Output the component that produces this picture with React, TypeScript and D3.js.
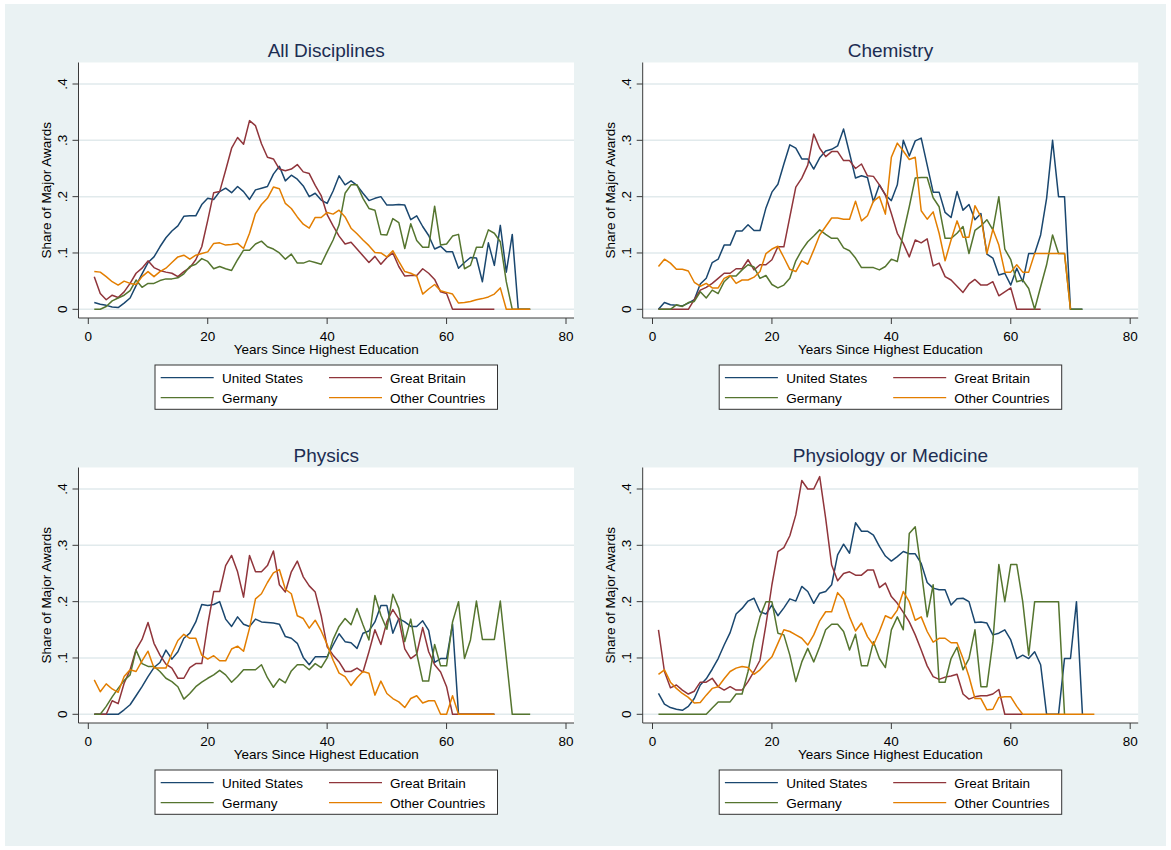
import React from "react";
import * as d3 from "d3";

// ---------- DATA (values start at year 1, one per year) ----------
const panelTitles = ["All Disciplines", "Chemistry", "Physics", "Physiology or Medicine"];
const seriesNames = ["United States", "Great Britain", "Germany", "Other Countries"];
const xTicks = [0, 20, 40, 60, 80];
const yTicks = [0, 0.1, 0.2, 0.3, 0.4];
const yTickLabels = ["0", ".1", ".2", ".3", ".4"];

const allUS = [0.012,0.009,0.007,0.004,0.003,0.011,0.02,0.042,0.063,0.083,0.093,0.111,0.127,0.139,0.148,0.165,0.166,0.166,0.186,0.197,0.195,0.209,0.215,0.207,0.218,0.209,0.195,0.212,0.215,0.218,0.24,0.254,0.228,0.238,0.231,0.219,0.2,0.206,0.194,0.188,0.21,0.237,0.221,0.228,0.22,0.206,0.193,0.197,0.2,0.185,0.185,0.186,0.185,0.159,0.166,0.147,0.131,0.107,0.112,0.102,0.102,0.073,0.083,0.092,0.091,0.049,0.118,0.078,0.149,0.066,0.133,0,0,0];
const allGB = [0.058,0.028,0.017,0.025,0.021,0.031,0.046,0.064,0.073,0.086,0.074,0.069,0.066,0.064,0.058,0.067,0.074,0.088,0.111,0.158,0.207,0.209,0.247,0.286,0.305,0.293,0.335,0.326,0.294,0.27,0.267,0.249,0.246,0.249,0.257,0.244,0.241,0.22,0.202,0.168,0.148,0.13,0.116,0.119,0.107,0.095,0.083,0.094,0.08,0.092,0.1,0.076,0.059,0.06,0.06,0.072,0.064,0.053,0.031,0.028,0,0,0,0,0,0,0,0];
const allDE = [0,0,0.005,0.015,0.02,0.025,0.033,0.052,0.039,0.046,0.046,0.051,0.054,0.054,0.056,0.063,0.076,0.08,0.09,0.085,0.072,0.076,0.072,0.069,0.088,0.105,0.105,0.116,0.121,0.111,0.107,0.1,0.089,0.098,0.082,0.082,0.086,0.083,0.08,0.102,0.123,0.15,0.206,0.221,0.221,0.197,0.179,0.176,0.133,0.132,0.161,0.154,0.108,0.152,0.122,0.11,0.11,0.183,0.114,0.116,0.13,0.133,0.072,0.078,0.11,0.11,0.141,0.135,0.12,0.049,0,0,0,0];
const allOther = [0.067,0.066,0.058,0.049,0.043,0.05,0.046,0.044,0.058,0.067,0.058,0.067,0.073,0.083,0.093,0.096,0.089,0.096,0.099,0.102,0.117,0.118,0.114,0.115,0.117,0.108,0.135,0.17,0.186,0.197,0.217,0.214,0.188,0.179,0.164,0.151,0.144,0.163,0.163,0.172,0.169,0.176,0.164,0.144,0.134,0.123,0.113,0.101,0.1,0.093,0.104,0.085,0.067,0.064,0.059,0.027,0.036,0.044,0.033,0.03,0.027,0.011,0.012,0.014,0.017,0.019,0.022,0.027,0.038,0,0,0,0,0];

const chemUS = [0,0.012,0.008,0.007,0.006,0.011,0.017,0.045,0.055,0.083,0.089,0.114,0.114,0.139,0.139,0.15,0.14,0.14,0.18,0.208,0.222,0.258,0.292,0.286,0.267,0.267,0.249,0.269,0.281,0.284,0.29,0.32,0.277,0.233,0.237,0.234,0.191,0.221,0.203,0.193,0.221,0.3,0.272,0.299,0.304,0.256,0.208,0.208,0.172,0.163,0.209,0.176,0.186,0.159,0.17,0.098,0.091,0.061,0.064,0.043,0.073,0.049,0.099,0.099,0.132,0.197,0.3,0.2,0.2,0,0,0];
const chemGB = [0,0,0,0,0,0,0.017,0.034,0.039,0.046,0.055,0.064,0.064,0.072,0.072,0.088,0.07,0.079,0.079,0.088,0.111,0.111,0.164,0.217,0.233,0.256,0.311,0.286,0.271,0.28,0.28,0.264,0.264,0.25,0.258,0.237,0.236,0.221,0.203,0.17,0.135,0.117,0.093,0.123,0.118,0.125,0.077,0.082,0.058,0.052,0.041,0.03,0.045,0.053,0.043,0.043,0.049,0.024,0.031,0.038,0,0,0,0,0];
const chemDE = [0,0,0,0.008,0.005,0.012,0.014,0.031,0.02,0.034,0.028,0.049,0.059,0.059,0.07,0.079,0.075,0.055,0.06,0.044,0.038,0.043,0.055,0.086,0.105,0.12,0.13,0.141,0.133,0.126,0.126,0.109,0.104,0.091,0.074,0.074,0.074,0.07,0.076,0.089,0.085,0.135,0.182,0.233,0.234,0.234,0.198,0.182,0.126,0.126,0.135,0.147,0.099,0.14,0.148,0.159,0.141,0.2,0.107,0.088,0.049,0.052,0.037,0,0.04,0.079,0.132,0.099,0.099,0,0,0];
const chemOther = [0.076,0.089,0.082,0.071,0.071,0.068,0.048,0.041,0.046,0.038,0.038,0.055,0.06,0.046,0.052,0.052,0.057,0.067,0.099,0.107,0.112,0.092,0.071,0.067,0.086,0.08,0.105,0.132,0.147,0.162,0.162,0.16,0.16,0.192,0.157,0.166,0.192,0.2,0.169,0.27,0.295,0.281,0.266,0.27,0.175,0.16,0.173,0.135,0.086,0.123,0.157,0.128,0.128,0.184,0.164,0.099,0.142,0.114,0.066,0.066,0.079,0.066,0.066,0.099,0.099,0.099,0.099,0.099,0.099,0];

const physUS = [0,0,0,0,0,0.008,0.017,0.033,0.049,0.067,0.083,0.092,0.114,0.098,0.111,0.135,0.144,0.164,0.195,0.193,0.195,0.2,0.169,0.156,0.173,0.16,0.156,0.169,0.164,0.163,0.162,0.16,0.138,0.135,0.126,0.101,0.088,0.102,0.102,0.102,0.123,0.143,0.129,0.127,0.117,0.144,0.148,0.164,0.193,0.193,0.144,0.17,0.164,0.156,0.156,0.166,0.149,0.092,0.099,0.099,0.16,0,0,0,0,0,0,0];
const physGB = [0,0,0,0.024,0.019,0.055,0.079,0.115,0.133,0.163,0.126,0.105,0.089,0.082,0.064,0.064,0.083,0.09,0.09,0.159,0.218,0.218,0.264,0.282,0.253,0.208,0.282,0.253,0.253,0.264,0.29,0.23,0.217,0.253,0.272,0.244,0.228,0.217,0.175,0.12,0.105,0.093,0.076,0.076,0.082,0.075,0.111,0.15,0.124,0.164,0.186,0.169,0.116,0.099,0.107,0.154,0.111,0.088,0.075,0.049,0,0,0,0,0,0,0,0];
const physDE = [0,0,0.014,0.031,0.046,0.06,0.07,0.114,0.09,0.085,0.085,0.076,0.064,0.058,0.049,0.027,0.037,0.049,0.057,0.064,0.07,0.078,0.07,0.057,0.067,0.079,0.079,0.079,0.088,0.065,0.048,0.063,0.056,0.077,0.088,0.088,0.079,0.09,0.083,0.1,0.133,0.156,0.17,0.159,0.188,0.159,0.132,0.211,0.176,0.151,0.213,0.188,0.129,0.169,0.108,0.059,0.059,0.124,0.086,0.086,0.164,0.2,0.099,0.132,0.201,0.133,0.133,0.133,0.201,0.1,0,0,0,0];
const physOther = [0.061,0.04,0.054,0.045,0.039,0.067,0.079,0.076,0.095,0.112,0.082,0.082,0.082,0.108,0.131,0.142,0.135,0.135,0.105,0.098,0.104,0.095,0.095,0.116,0.121,0.112,0.153,0.205,0.214,0.234,0.251,0.257,0.222,0.214,0.175,0.17,0.153,0.167,0.148,0.124,0.096,0.073,0.067,0.051,0.065,0.076,0.073,0.034,0.059,0.037,0.028,0.022,0.012,0.028,0.033,0.02,0.024,0.024,0,0,0.033,0,0,0,0,0,0,0];

const medUS = [0.037,0.018,0.012,0.009,0.007,0.014,0.028,0.052,0.063,0.08,0.099,0.123,0.145,0.178,0.188,0.201,0.206,0.182,0.178,0.194,0.175,0.189,0.205,0.201,0.227,0.218,0.197,0.215,0.218,0.23,0.283,0.302,0.286,0.34,0.325,0.325,0.318,0.298,0.281,0.272,0.28,0.289,0.285,0.285,0.268,0.234,0.224,0.221,0.221,0.194,0.205,0.206,0.2,0.163,0.164,0.162,0.141,0.144,0.15,0.132,0.099,0.105,0.099,0.111,0.088,0,0,0,0.099,0.099,0.2,0];
const medGB = [0.15,0.076,0.047,0.052,0.043,0.036,0.041,0.057,0.057,0.064,0.049,0.043,0.049,0.043,0.043,0.058,0.076,0.096,0.159,0.23,0.289,0.296,0.317,0.354,0.415,0.4,0.4,0.422,0.348,0.265,0.237,0.25,0.253,0.247,0.247,0.256,0.256,0.225,0.233,0.209,0.197,0.181,0.164,0.141,0.114,0.086,0.067,0.062,0.066,0.068,0.071,0.036,0.027,0.031,0.033,0.033,0.036,0.044,0,0,0,0];
const medDE = [0,0,0,0,0,0,0,0,0,0.011,0.022,0.022,0.022,0.036,0.036,0.076,0.132,0.173,0.2,0.2,0.144,0.141,0.105,0.058,0.093,0.117,0.093,0.12,0.15,0.16,0.16,0.147,0.114,0.142,0.086,0.086,0.129,0.099,0.083,0.15,0.173,0.15,0.321,0.333,0.256,0.173,0.23,0.057,0.057,0.099,0.119,0.079,0.099,0.15,0.049,0.049,0.129,0.266,0.2,0.266,0.266,0.2,0.105,0.2,0.2,0.2,0.2,0.2,0];
const medOther = [0.071,0.079,0.057,0.046,0.037,0.03,0.02,0.021,0.034,0.046,0.049,0.063,0.076,0.082,0.085,0.083,0.071,0.079,0.091,0.102,0.126,0.15,0.147,0.141,0.135,0.123,0.141,0.166,0.182,0.182,0.216,0.204,0.173,0.148,0.162,0.138,0.123,0.147,0.175,0.17,0.185,0.218,0.2,0.167,0.173,0.147,0.128,0.135,0.135,0.127,0.127,0.099,0.067,0.028,0.028,0.008,0.009,0.03,0.031,0.031,0.014,0,0,0,0,0,0,0,0,0,0,0,0,0];

const panelSeries = [
  [allUS, allGB, allDE, allOther],
  [chemUS, chemGB, chemDE, chemOther],
  [physUS, physGB, physDE, physOther],
  [medUS, medGB, medDE, medOther],
];

// ---------- STYLE ----------
const colors = ["#1a476f", "#90353b", "#55752f", "#e37e00"];
const FONT = "'Liberation Sans', Arial, Helvetica, sans-serif";
const BG = "#eaf2f3";
const offsets = [
  { dx: 0, dy: 0 },
  { dx: 564.2, dy: 0 },
  { dx: 0, dy: 405 },
  { dx: 564.2, dy: 405 },
];

// base geometry of top-left panel
const plotL = 78.5, plotR = 574, plotT = 62.5, plotB = 318;
const x = d3.scaleLinear().domain([0, 80]).range([88.3, 566]);
const y = d3.scaleLinear().domain([0, 0.4]).range([309.3, 84]);

function Panel({ idx }: { idx: number }) {
  const { dx, dy } = offsets[idx];
  const series = panelSeries[idx];
  const line = d3
    .line<number>()
    .x((_, i) => x(i + 1))
    .y((v) => y(v));
  const cx = (plotL + plotR) / 2;
  const legX = 155, legY = 365, legW = 342.5, legH = 44.3;
  return (
    <g transform={`translate(${dx},${dy})`}>
      <text x={cx} y={57.3} textAnchor="middle" fontSize={19} fill="#1c2d52" fontFamily={FONT}>
        {panelTitles[idx]}
      </text>
      <rect x={plotL} y={plotT} width={plotR - plotL} height={plotB - plotT} fill="#ffffff" />
      {yTicks.map((t) => (
        <line key={"g" + t} x1={plotL} x2={plotR} y1={y(t)} y2={y(t)} stroke="#e1eaec" strokeWidth={1.5} />
      ))}
      {series.map((s, k) => (
        <path key={k} d={line(s) || ""} fill="none" stroke={colors[k]} strokeWidth={1.5} strokeLinejoin="round" />
      ))}
      {/* axes */}
      <line x1={plotL} x2={plotL} y1={plotT} y2={plotB} stroke="#3a3a3a" strokeWidth={1} />
      <line x1={plotL} x2={plotR} y1={plotB} y2={plotB} stroke="#3a3a3a" strokeWidth={1} />
      {yTicks.map((t, i) => (
        <g key={"y" + t}>
          <line x1={plotL - 6} x2={plotL} y1={y(t)} y2={y(t)} stroke="#3a3a3a" strokeWidth={1} />
          <text
            transform={`translate(62,${y(t)}) rotate(-90)`}
            textAnchor="middle"
            dy="0.35em"
            fontSize={13.5}
            fill="#000"
            fontFamily={FONT}
          >
            {yTickLabels[i]}
          </text>
        </g>
      ))}
      {xTicks.map((t) => (
        <g key={"x" + t}>
          <line x1={x(t)} x2={x(t)} y1={plotB} y2={plotB + 6} stroke="#3a3a3a" strokeWidth={1} />
          <text x={x(t)} y={340.7} textAnchor="middle" fontSize={13.5} fill="#000" fontFamily={FONT}>
            {t}
          </text>
        </g>
      ))}
      <text x={cx} y={353.5} textAnchor="middle" fontSize={13.5} fill="#000" fontFamily={FONT}>
        Years Since Highest Education
      </text>
      <text
        transform={`translate(46,${(plotT + plotB) / 2}) rotate(-90)`}
        textAnchor="middle"
        dy="0.35em"
        fontSize={13.5}
        fill="#000"
        fontFamily={FONT}
      >
        Share of Major Awards
      </text>
      {/* legend */}
      <rect x={legX} y={legY} width={legW} height={legH} fill="#ffffff" stroke="#333" strokeWidth={1} />
      {seriesNames.map((name, k) => {
        const col = k % 2;
        const row = Math.floor(k / 2);
        const lx = col === 0 ? 160.7 : 329;
        const ly = 377.7 + row * 20;
        const tx = col === 0 ? 222 : 390;
        return (
          <g key={name}>
            <line x1={lx} x2={lx + 53} y1={ly} y2={ly} stroke={colors[k]} strokeWidth={1.3} />
            <text x={tx} y={ly} dy="0.36em" fontSize={13.5} fill="#000" fontFamily={FONT}>
              {name}
            </text>
          </g>
        );
      })}
    </g>
  );
}

export default function App() {
  return (
    <svg
      width={1171}
      height={850}
      style={{ position: "absolute", left: 0, top: 0, display: "block" }}
      xmlns="http://www.w3.org/2000/svg"
    >
      <rect x={0} y={0} width={1171} height={850} fill="#ffffff" />
      <rect x={5} y={4} width={1161} height={842} fill={BG} />
      {[0, 1, 2, 3].map((i) => (
        <Panel key={i} idx={i} />
      ))}
    </svg>
  );
}
